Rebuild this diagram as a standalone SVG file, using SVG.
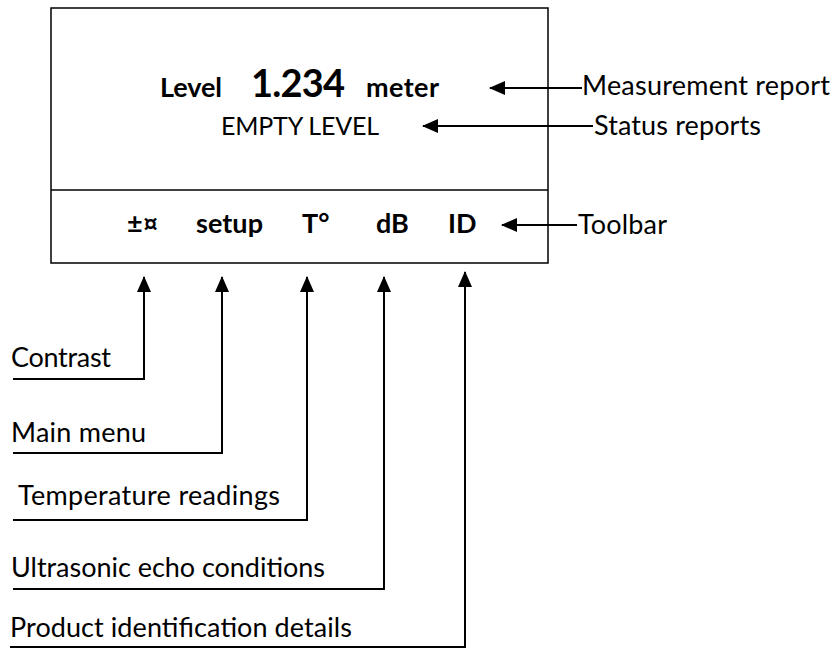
<svg xmlns="http://www.w3.org/2000/svg" width="833" height="648" viewBox="0 0 833 648">
<defs>
<style>
text{font-family:Lato,"Liberation Sans",sans-serif;fill:#000}
.lbl{font-size:27px}
.b{font-weight:bold}
.ln{fill:none;stroke:#000;stroke-width:2}
</style>
<marker id="ah" markerUnits="userSpaceOnUse" markerWidth="16" markerHeight="14" refX="15" refY="7" orient="auto">
<path d="M0,0 L16,7 L0,14 z" fill="#000"/>
</marker>
</defs>
<rect width="833" height="648" fill="#fff"/>
<g id="display">
<rect x="51" y="8" width="497" height="255" fill="none" stroke="#000" stroke-width="1.5"/>
<line x1="51" y1="190" x2="548" y2="190" stroke="#000" stroke-width="1.5"/>
<text x="160" y="97" class="b" font-size="27" textLength="62">Level</text>
<text x="251" y="97" class="b" font-size="38" textLength="94">1.234</text>
<text x="366" y="97" class="b" font-size="27" textLength="73">meter</text>
<text x="221" y="135" font-size="25" textLength="158">EMPTY LEVEL</text>
</g>
<g id="toolbar">
<text x="127" y="233" class="b" font-size="27">±¤</text>
<text x="196" y="233" class="b" font-size="27" textLength="67">setup</text>
<text x="302" y="233" class="b" font-size="27">T°</text>
<text x="376" y="233" class="b" font-size="27">dB</text>
<text x="448" y="233" class="b" font-size="27">ID</text>
</g>
<g id="connectors">
<path class="ln" d="M582,88 H490" marker-end="url(#ah)"/>
<path class="ln" d="M593,126 H423" marker-end="url(#ah)"/>
<path class="ln" d="M577,225 H502" marker-end="url(#ah)"/>
<path class="ln" d="M13,379 H144 V277" marker-end="url(#ah)"/>
<path class="ln" d="M13,453 H222 V277" marker-end="url(#ah)"/>
<path class="ln" d="M13,520 H307 V277" marker-end="url(#ah)"/>
<path class="ln" d="M13,589 H384 V277" marker-end="url(#ah)"/>
<path class="ln" d="M10,647 H465 V272" marker-end="url(#ah)"/>
</g>
<g id="label-measurement"><text x="582" y="95" class="lbl" textLength="248">Measurement report</text></g>
<g id="label-status"><text x="594" y="135" class="lbl" textLength="167">Status reports</text></g>
<g id="label-toolbar"><text x="578" y="234" class="lbl" textLength="89">Toolbar</text></g>
<g id="label-contrast"><text x="11" y="367" class="lbl" textLength="100">Contrast</text></g>
<g id="label-mainmenu"><text x="11" y="442" class="lbl" textLength="135">Main menu</text></g>
<g id="label-temperature"><text x="18" y="505" class="lbl" textLength="262">Temperature readings</text></g>
<g id="label-ultrasonic"><text x="11" y="577" class="lbl" textLength="314">Ultrasonic echo conditions</text></g>
<g id="label-product"><text x="10" y="637" class="lbl" textLength="342">Product identification details</text></g>
</svg>
